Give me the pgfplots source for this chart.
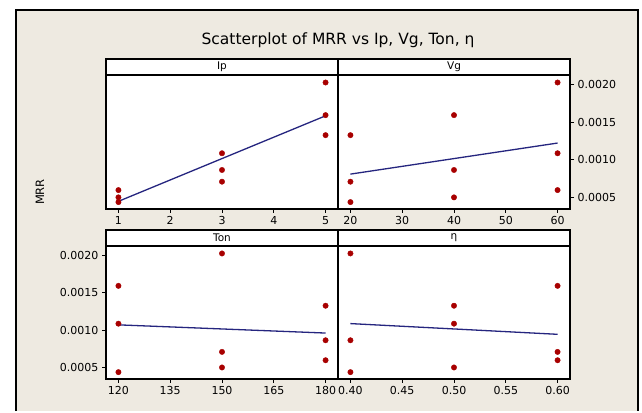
\documentclass[border=0pt]{standalone}
\usepackage{fontspec}
\setmainfont{DejaVu Sans}
\usepackage{pgfplots}
\pgfplotsset{compat=1.18}

\definecolor{bgbeige}{HTML}{EEEAE1}
\definecolor{dotred}{HTML}{A80000}
\definecolor{fitblue}{HTML}{25257F}

\pgfplotsset{
  panel/.style={
    scale only axis, width=232pt, height=134pt,
    axis line style={line width=1.2pt},
    axis background/.style={fill=white},
    tick align=outside, major tick length=4pt,
    tick style={black, line width=0.9pt},
    xtick pos=left,
    enlarge x limits=0.06,
    ymin=0.000344, ymax=0.00213,
    ytick={0.0005,0.001,0.0015,0.002},
    scaled y ticks=false,
    ticklabel style={font=\fontsize{11}{13}\selectfont},
    /pgf/number format/assume math mode=true,
    yticklabel style={/pgf/number format/.cd, fixed, fixed zerofill, precision=4},
  },
  dots/.style={only marks, mark=*, mark size=2.7pt, mark options={fill=dotred, draw=dotred}},
  fit/.style={no marks, fitblue, line width=1.3pt},
}

\begin{document}
\begin{tikzpicture}
% page and frame
\fill[white] (0,0) rectangle (642pt,411pt);
\fill[bgbeige] (16pt,0) rectangle (638pt,401pt);
\draw[line width=2pt] (16pt,0) -- (16pt,401pt) -- (638pt,401pt) -- (638pt,0);

\node[font=\fontsize{15.5}{18}\selectfont] at (338pt,371pt) {Scatterplot of MRR vs Ip, Vg, Ton, η};
\node[rotate=90, font=\fontsize{11.5}{13}\selectfont] at (40pt,219pt) {MRR};

% Ip
\begin{axis}[panel, at={(106pt,202pt)}, anchor=south west, xtick={1,2,3,4,5}, ytick=\empty]
  \addplot[fit] coordinates {(1,0.000446) (5,0.001586)};
  \addplot[dots] coordinates {(1,0.000596) (1,0.000499) (1,0.000436) (3,0.001087) (3,0.000864) (3,0.000708) (5,0.00203) (5,0.001595) (5,0.001328)};
\end{axis}

% Vg
\begin{axis}[panel, at={(338pt,202pt)}, anchor=south west, xtick={20,30,40,50,60}, ytick pos=right]
  \addplot[fit] coordinates {(20,0.000809) (60,0.001223)};
  \addplot[dots] coordinates {(20,0.001328) (20,0.000708) (20,0.000436) (40,0.001595) (40,0.000864) (40,0.000499) (60,0.00203) (60,0.001087) (60,0.000596)};
\end{axis}

% Ton
\begin{axis}[panel, at={(106pt,32pt)}, anchor=south west, height=133pt, xtick={120,135,150,165,180}, ytick pos=left]
  \addplot[fit] coordinates {(120,0.001071) (180,0.000961)};
  \addplot[dots] coordinates {(120,0.001595) (120,0.001087) (120,0.000436) (150,0.00203) (150,0.000708) (150,0.000499) (180,0.001328) (180,0.000864) (180,0.000596)};
\end{axis}

% eta
\begin{axis}[panel, at={(338pt,32pt)}, anchor=south west, height=133pt, xtick={0.4,0.45,0.5,0.55,0.6}, ytick=\empty,
  xticklabel style={/pgf/number format/.cd, fixed, fixed zerofill, precision=2}]
  \addplot[fit] coordinates {(0.4,0.001088) (0.6,0.000944)};
  \addplot[dots] coordinates {(0.4,0.00203) (0.4,0.000864) (0.4,0.000436) (0.5,0.001328) (0.5,0.001087) (0.5,0.000499) (0.6,0.001595) (0.6,0.000708) (0.6,0.000596)};
\end{axis}

% strips
\begin{scope}[line width=1.2pt, font=\fontsize{10.5}{12}\selectfont]
  \draw[fill=white] (106pt,336pt) rectangle (338pt,352pt);
  \node at (222pt,344pt) {Ip};
  \draw[fill=white] (338pt,336pt) rectangle (570pt,352pt);
  \node at (454pt,344pt) {Vg};
  \draw[fill=white] (106pt,165pt) rectangle (338pt,181pt);
  \node at (222pt,173pt) {Ton};
  \draw[fill=white] (338pt,165pt) rectangle (570pt,181pt);
  \node at (454pt,173pt) {η};
\end{scope}
\end{tikzpicture}
\end{document}
